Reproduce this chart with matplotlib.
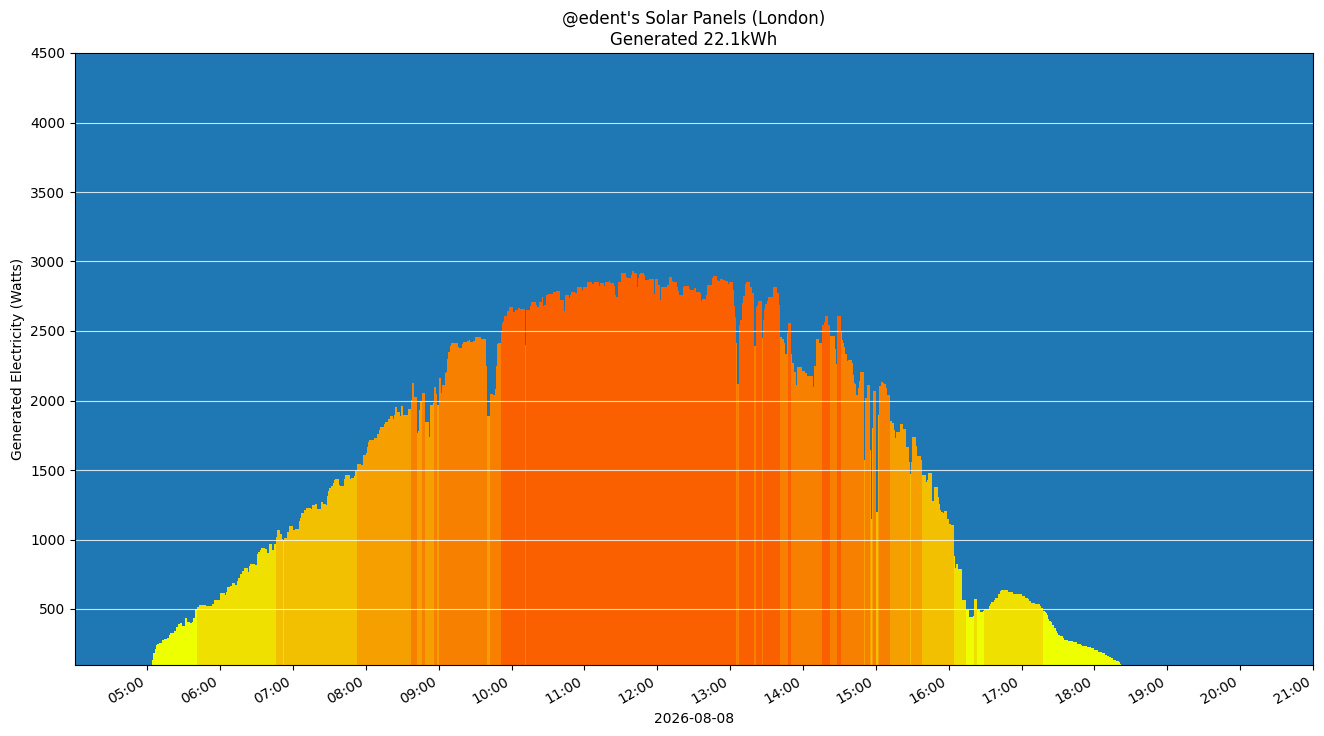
import matplotlib
matplotlib.use("Agg")
import matplotlib.pyplot as plt
import matplotlib.dates as mdates
import numpy as np
import pandas as pd

day = "2026-08-08"
title = "@edent's Solar Panels (London)\nGenerated 22.1kWh"
first_minute = "05:00"
x_start = "04:00:30"
x_end = "21:00"
y_label = "Generated Electricity (Watts)"

# Generated watts, one value per minute, one list per hour
w05 = [0, 0, 0, 0, 131, 181, 210, 238, 248, 248,
       257, 257, 274, 274, 286, 286, 288, 288, 310, 324,
       324, 324, 345, 345, 367, 393, 393, 400, 400, 381,
       381, 438, 438, 407, 407, 400, 400, 410, 436, 498,
       498, 512, 512, 529, 529, 529, 529, 529, 519, 519,
       524, 524, 524, 536, 536, 567, 567, 567, 567, 567]
w06 = [614, 614, 614, 614, 602, 621, 657, 657, 667, 667,
       686, 686, 674, 674, 705, 721, 752, 752, 771, 771,
       793, 793, 793, 769, 812, 821, 821, 821, 821, 817,
       895, 910, 910, 921, 936, 936, 936, 929, 929, 905,
       967, 967, 967, 924, 967, 967, 1019, 1067, 1067, 1038,
       1038, 1007, 995, 1014, 1014, 1052, 1052, 1095, 1095, 1095]
w07 = [1071, 1071, 1076, 1076, 1076, 1131, 1157, 1193, 1193, 1210,
       1210, 1224, 1224, 1224, 1224, 1221, 1245, 1245, 1258, 1258,
       1222, 1222, 1222, 1272, 1272, 1258, 1258, 1251, 1315, 1351,
       1373, 1387, 1387, 1409, 1430, 1438, 1438, 1438, 1394, 1387,
       1387, 1387, 1438, 1466, 1466, 1466, 1466, 1438, 1445, 1445,
       1459, 1495, 1495, 1545, 1545, 1545, 1538, 1538, 1610, 1610]
w08 = [1621, 1669, 1698, 1717, 1717, 1717, 1717, 1733, 1733, 1760,
       1760, 1788, 1807, 1807, 1812, 1829, 1845, 1845, 1864, 1864,
       1888, 1888, 1867, 1898, 1952, 1952, 1917, 1917, 1888, 1960,
       1960, 1895, 1895, 1895, 1895, 1938, 1938, 2002, 2126, 2126,
       2024, 2024, 1769, 1781, 1931, 1990, 2052, 2052, 2052, 1848,
       1848, 1848, 1740, 1967, 1967, 1979, 2095, 2095, 2045, 1967]
w09 = [2160, 2160, 2055, 2110, 2110, 2198, 2205, 2295, 2352, 2395,
       2417, 2417, 2417, 2417, 2417, 2417, 2383, 2376, 2376, 2407,
       2419, 2424, 2424, 2431, 2431, 2438, 2419, 2419, 2431, 2431,
       2460, 2460, 2460, 2460, 2460, 2445, 2445, 2445, 2445, 2245,
       1888, 1888, 2050, 2050, 2050, 2036, 2086, 2245, 2407, 2417,
       2417, 2502, 2560, 2574, 2610, 2610, 2646, 2646, 2675, 2675]
w10 = [2675, 2639, 2639, 2653, 2653, 2668, 2668, 2660, 2660, 2660,
       2660, 2402, 2653, 2653, 2653, 2682, 2711, 2711, 2711, 2711,
       2689, 2675, 2675, 2711, 2711, 2747, 2682, 2689, 2761, 2761,
       2768, 2768, 2768, 2768, 2783, 2783, 2783, 2790, 2790, 2790,
       2724, 2724, 2724, 2645, 2760, 2760, 2760, 2738, 2760, 2781,
       2781, 2781, 2774, 2774, 2817, 2817, 2817, 2817, 2795, 2817]
w11 = [2817, 2817, 2852, 2852, 2852, 2852, 2838, 2838, 2852, 2852,
       2852, 2852, 2824, 2845, 2845, 2845, 2824, 2852, 2852, 2852,
       2860, 2845, 2845, 2845, 2824, 2760, 2745, 2745, 2852, 2852,
       2917, 2917, 2917, 2917, 2888, 2881, 2881, 2881, 2902, 2931,
       2931, 2917, 2917, 2817, 2881, 2910, 2917, 2917, 2917, 2902,
       2867, 2867, 2867, 2874, 2874, 2874, 2874, 2767, 2874, 2874]
w12 = [2874, 2831, 2724, 2817, 2817, 2817, 2817, 2817, 2831, 2831,
       2888, 2888, 2860, 2852, 2852, 2852, 2817, 2788, 2760, 2760,
       2760, 2817, 2824, 2824, 2824, 2824, 2802, 2795, 2795, 2795,
       2810, 2810, 2781, 2781, 2781, 2774, 2717, 2731, 2731, 2731,
       2760, 2831, 2831, 2831, 2831, 2881, 2895, 2895, 2895, 2867,
       2860, 2860, 2874, 2874, 2867, 2867, 2860, 2860, 2838, 2852]
w13 = [2852, 2852, 2798, 2678, 2603, 2416, 2120, 2546, 2582, 2582,
       2704, 2755, 2841, 2856, 2856, 2856, 2813, 2813, 2776, 2776,
       2394, 2675, 2690, 2719, 2719, 2719, 2452, 2582, 2661, 2697,
       2719, 2748, 2748, 2748, 2748, 2820, 2820, 2820, 2820, 2776,
       2690, 2459, 2459, 2445, 2416, 2337, 2337, 2488, 2560, 2560,
       2337, 2272, 2272, 2207, 2113, 2243, 2243, 2243, 2243, 2214]
w14 = [2214, 2214, 2200, 2178, 2178, 2178, 2178, 2178, 2099, 2250,
       2250, 2445, 2445, 2416, 2416, 2416, 2546, 2567, 2611, 2611,
       2611, 2546, 2466, 2466, 2466, 2466, 2373, 2264, 2611, 2611,
       2611, 2495, 2437, 2416, 2387, 2337, 2286, 2293, 2293, 2293,
       2272, 2185, 2127, 2120, 2041, 2091, 2142, 2207, 2207, 2207,
       1572, 2019, 2019, 2113, 2113, 1644, 1146, 1803, 2069, 2069]
w15 = [1197, 1197, 1897, 2106, 2135, 2132, 2124, 2117, 2088, 2038,
       2038, 2038, 1852, 1837, 1837, 1787, 1730, 1773, 1773, 1773,
       1830, 1830, 1794, 1794, 1794, 1665, 1665, 1557, 1471, 1557,
       1737, 1737, 1737, 1672, 1600, 1600, 1600, 1572, 1464, 1464,
       1464, 1414, 1428, 1478, 1478, 1478, 1278, 1278, 1378, 1378,
       1378, 1306, 1256, 1213, 1199, 1191, 1206, 1206, 1206, 1148]
w16 = [1112, 1112, 1105, 1105, 883, 797, 825, 825, 790, 790,
       790, 567, 567, 567, 495, 495, 495, 445, 445, 445,
       452, 574, 574, 495, 495, 495, 481, 481, 488, 502,
       502, 502, 502, 519, 534, 548, 548, 567, 582, 582,
       582, 610, 629, 639, 639, 639, 634, 634, 634, 625,
       625, 620, 620, 610, 610, 610, 610, 610, 606, 606]
w17 = [596, 596, 596, 582, 582, 572, 558, 558, 546, 546,
       546, 534, 534, 534, 534, 519, 510, 510, 488, 481,
       474, 459, 430, 411, 404, 387, 387, 366, 342, 327,
       313, 313, 303, 303, 289, 279, 279, 279, 270, 270,
       270, 270, 260, 260, 260, 260, 251, 251, 251, 241,
       236, 236, 236, 236, 227, 227, 227, 217, 217, 217]
w18 = [207, 207, 207, 193, 193, 193, 183, 183, 183, 171,
       164, 164, 155, 155, 145, 136, 136, 136, 126, 126,
       116, 107, 98, 90]

bin_edges = [500, 1000, 1500, 2000, 2500]
bin_colors = ["#EEFF00", "#F0E000", "#F2C000", "#F5A000", "#F78000", "#FA6000"]

watts = np.array(w05 + w06 + w07 + w08 + w09 + w10 + w11 + w12 + w13 + w14
                 + w15 + w16 + w17 + w18)
times = pd.date_range(f"{day} {first_minute}", periods=len(watts), freq="min")
colors = [bin_colors[int(np.searchsorted(bin_edges, v, side="right"))] for v in watts]

fig = plt.figure(figsize=(13.24, 7.36), dpi=100)
ax = fig.add_axes([75 / 1324, 1 - 664.6 / 736, 1238 / 1324, (664.6 - 53) / 736])
ax.set_facecolor("#1f77b4")

xnum = mdates.date2num(times.to_pydatetime())
ax.bar(xnum, watts, width=1 / 1440, align="edge", color=colors,
       linewidth=0, antialiased=False)

ax.set_ylim(100, 4500)
ax.set_yticks(np.arange(500, 4501, 500))
ax.set_xlim(mdates.date2num(pd.Timestamp(f"{day} {x_start}").to_pydatetime()),
            mdates.date2num(pd.Timestamp(f"{day} {x_end}").to_pydatetime()))
ax.xaxis.set_major_locator(mdates.HourLocator())
ax.xaxis.set_major_formatter(mdates.DateFormatter("%H:%M"))
plt.setp(ax.get_xticklabels(), rotation=30, ha="right")

ax.yaxis.grid(True, color="white", alpha=0.8, linewidth=0.8)
ax.xaxis.grid(False)

ax.set_title(title, fontsize=12)
ax.set_xlabel(day)
ax.set_ylabel(y_label)

fig.savefig("out.png", dpi=100)
